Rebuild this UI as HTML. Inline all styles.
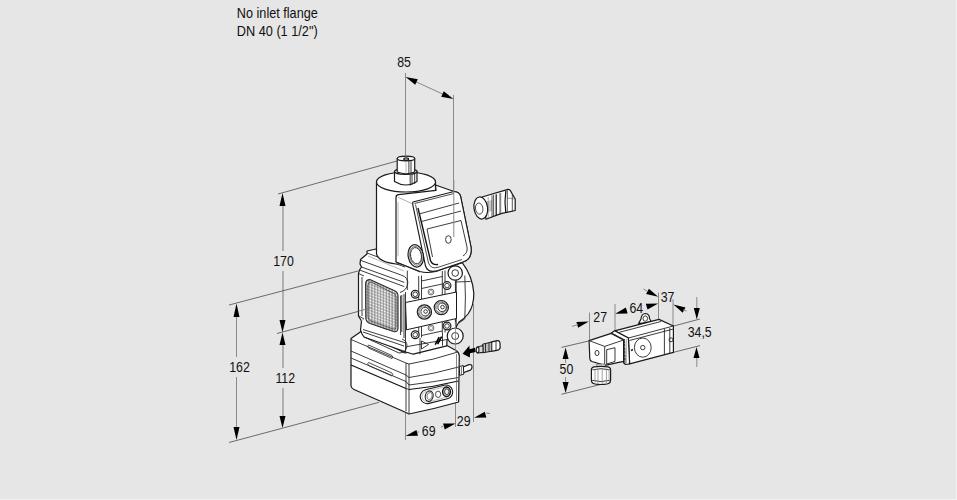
<!DOCTYPE html>
<html><head><meta charset="utf-8">
<style>
html,body{margin:0;padding:0;background:#e6e6e6;width:957px;height:500px;overflow:hidden}
svg{display:block}
text{font-family:"Liberation Sans",sans-serif;font-size:14.2px;fill:#111}
.d{stroke:#8a8a8a;stroke-width:1;fill:none}
.e{stroke:#5c5c5c;stroke-width:0.9;fill:none}
.a{fill:#000;stroke:none}
.o{stroke:#1a1a1a;stroke-width:1.2;fill:#fff;stroke-linejoin:round}
.l{stroke:#262626;stroke-width:0.9;fill:none}
.t{stroke:#888;stroke-width:0.6;fill:none}
</style></head>
<body>
<svg width="957" height="500" viewBox="0 0 957 500">
<rect x="956" y="0" width="1" height="500" fill="#f2f2f2"/><rect x="0" y="499" width="957" height="1" fill="#f2f2f2"/>
<!-- TEXT -->
<text transform="matrix(0.893 0 0 1 236.80 17.80)">No inlet flange</text>
<text transform="matrix(0.897 0 0 1 236.80 35.80)">DN 40 (1 1/2&quot;)</text>
<text transform="matrix(0.87 0 0 1 397.20 66.80)">85</text>
<text transform="matrix(0.87 0 0 1 273.20 266.00)">170</text>
<text transform="matrix(0.87 0 0 1 229.20 372.00)">162</text>
<text transform="matrix(0.87 0 0 1 275.40 383.00)">112</text>
<text transform="matrix(0.87 0 0 1 421.80 435.80)">69</text>
<text transform="matrix(0.87 0 0 1 456.80 425.90)">29</text>
<text transform="matrix(0.87 0 0 1 593.30 321.60)">27</text>
<text transform="matrix(0.87 0 0 1 629.50 312.70)">64</text>
<text transform="matrix(0.87 0 0 1 660.70 301.60)">37</text>
<text transform="matrix(0.87 0 0 1 687.70 337.20)">34,5</text>
<text transform="matrix(0.87 0 0 1 559.60 373.80)">50</text>

<!-- DIMENSIONS main valve -->
<g id="dims">
<!-- 85 -->
<path class="d" d="M405.5 73V157 M453.5 95V237"/>
<path class="d" d="M412 80L447 96"/>
<path class="a" d="M405.6 77.0L415.2 84.7L417.8 79.3Z M453.4 99.0L443.8 91.3L441.2 96.7Z"/>
<!-- 170 -->
<path class="e" d="M278 194L397 161"/>
<path class="d" d="M283 205V251 M283 271V321" style="stroke:#7a7a7a"/>
<path class="a" d="M282.5 193L279.5 206H285.5Z M282.5 332.5L279.5 320H285.5Z"/>
<!-- shared ext -->
<path class="e" d="M277 333.5L367 309"/>
<!-- 112 -->
<path class="d" d="M283 344V368 M283 388V417" style="stroke:#7a7a7a"/>
<path class="a" d="M282.5 332.5L279.5 345H285.5Z M282.5 428L279.5 416H285.5Z"/>
<!-- 162 -->
<path class="e" d="M229 305L358 271"/>
<path class="d" d="M236.5 316V357 M236.5 377V428"/>
<path class="a" d="M236.5 303.5L233.5 317H239.5Z M236.5 440L233.5 427H239.5Z"/>
<path class="e" d="M229 442.5L379 402.3"/>
<!-- 69 / 29 -->
<path class="d" d="M405.5 411V440 M455.5 401V427 M473.5 304V422"/>
<path class="a" d="M405.6 435.9L418.0 435.7L416.4 429.9Z M455.5 423.4L443.1 423.6L444.7 429.4Z M474.0 417.8L486.4 417.6L484.8 411.8Z"/>
<path class="d" d="M417 432L419 432 M441 427L443 426.5 M486 413L490 413.5"/>
</g>

<!-- MAIN VALVE -->
<g id="valve">
<!-- lower actuator body -->
<path class="o" d="M361 331.5 L351 338.5 L351 386 Q351.5 388.5 354 389.5 L406 412.5 L409 414 Q434 409 458.6 402 L459.3 356 Q459 352 456 350.5 L446 345 L440 346 L405 353 L362 332 Z"/>
<path class="l" d="M351 339.5 L406 363 M351 351 L406 375 M351 358 L406 381.5"/>
<path d="M351 365 L406 388.5" stroke="#111" stroke-width="1.2" fill="none"/>
<path class="l" d="M409 364 Q434 360 457.8 352 M409 377.5 Q434 374 458.5 367 M409 385 Q434 382 458.5 377.5 M409 413.6 V364 M406 363 V411"/>
<path d="M409 389.5 Q434 387 458.5 381" stroke="#111" stroke-width="1.1" fill="none"/>
<path class="l" d="M406 363 L409 364 M406 375 L409 377.5 M406 381.5 L409 385 M406 388.5 L409 389.5"/>
<path class="t" d="M368.5 345 L392 355.5 Q393.5 357 392 358.5 L368.5 348 Q367 346 368.5 345 Z M368.5 362.5 L392 373 Q393.5 374.5 392 376 L368.5 365.5 Q367 363.5 368.5 362.5 Z" style="stroke:#333;stroke-width:0.85"/>
<rect x="420" y="387.3" width="33" height="14" rx="7" transform="rotate(-14 436.5 394.3)" style="fill:#fff;stroke:#1a1a1a;stroke-width:1.1"/>
<rect x="421.8" y="389" width="29.4" height="10.6" rx="5.3" transform="rotate(-14 436.5 394.3)" style="fill:none;stroke:#999;stroke-width:0.6"/>
<ellipse cx="429.2" cy="396.2" rx="3.9" ry="5.2" transform="rotate(15 429.2 396.2)" style="fill:#fff;stroke:#1a1a1a;stroke-width:1.1"/>
<ellipse cx="429.6" cy="396" rx="2.5" ry="3.6" transform="rotate(15 429.6 396)" style="fill:none;stroke:#666;stroke-width:0.8"/>
<ellipse cx="438.1" cy="394.3" rx="2.6" ry="3.2" style="fill:none;stroke:#222;stroke-width:0.8"/>
<ellipse cx="446.5" cy="391.8" rx="3.9" ry="4.8" style="fill:#bbb;stroke:#111;stroke-width:1.3"/>
<ellipse cx="446.8" cy="391.7" rx="2.2" ry="2.9" style="fill:#eee;stroke:#333;stroke-width:0.9"/>
<!-- nipple lower -->
<path class="l" d="M456.5 354 V401" style="stroke:#555;stroke-width:0.7"/>
<path class="o" d="M462 367.5 L469 364.6 Q472.2 364 472 367.2 Q471.8 370 469 370.6 L462.5 373 Z"/>
<path d="M459.3 366.5 L463.3 365.6 L463.8 374.2 L459.6 375.4 Z" style="fill:#fff;stroke:#1a1a1a;stroke-width:1"/>
<path d="M461.4 367 V374.6" style="stroke:#333;stroke-width:0.7"/>
<!-- valve block: right round side -->
<path class="o" d="M446 268 L462.4 262.8 Q472.5 276 473.8 293 Q474 306 468 314 Q464 319 459 322 L452 334 Z"/>
<path class="l" d="M455.2 282 L470.5 281.5 M464.8 275.6 Q466 297 464.8 318.8 L459 323 M455.2 282 V326.8"/>
<!-- block main silhouette -->
<path class="o" d="M358.5 273.5 L359.5 270 L361.5 267 L360 264 L360.5 259.5 L367 254 L367 251 L376 249 L420 262 L450 262 L456 280 L456 322 L456 336 L447 340 L446.8 345.8 L413.2 354.2 L406 352 L364 337 L362 334 L360.5 330 L361.5 321 L358.5 316 Z"/>
<!-- flange ribs top -->
<path class="l" d="M367 253 L405 267 M361 260.5 L400.5 274.8 Q409 277.5 407.7 284 Q406.5 290.5 400 292.5 M361.5 267 L404.3 282.4 M359.5 270 L404.3 286.6 M358.5 273.5 L364 276 M362 277 V316 M359 316 L364 319"/>
<path class="t" d="M368 256 L404 271"/>
<!-- flange bottom rail -->
<path class="l" d="M363 329.5 L406 343 M363 332 L404 346 M364 337 L399 353 Q406 353 407 346 Q407 341 402 339"/>
<path class="t" d="M376 325 L387 330 M361 321 L364 319"/>
<!-- filter mesh -->
<defs><pattern id="mesh" width="2.9" height="2.9" patternUnits="userSpaceOnUse" patternTransform="translate(366 280) skewY(20)"><rect width="2.9" height="2.9" fill="#909090"/><rect x="0.55" y="0.55" width="1.9" height="1.9" rx="0.4" fill="#fafafa"/></pattern></defs>
<path d="M370 279.6 Q365.6 279.6 365.6 284 L365.8 318 Q366 322 370 323.5 L393.5 331.5 Q398 332.5 398 328 L398 296 Q398 292 394 290.5 Z" fill="url(#mesh)" stroke="#2a2a2a" stroke-width="1.1"/>
<path d="M371 282 Q367.8 282 367.8 285.5 L368 317 Q368.2 320 371 321 L393 329 Q396 330 396 327 L396 297 Q396 294 393 293 Z" fill="none" stroke="#444" stroke-width="0.8"/>
<path class="l" d="M400.6 295.6 V335 M404 294 V338"/>
<!-- block front face -->
<path class="l" d="M407.3 270.6 V290 M405.5 292 V352 M401.8 295 V332 M418.7 276 V300 M421.5 275.5 V299.5 M442.3 271 V295 M445 270.5 V294.5 M455.4 281 V324"/>
<path class="l" d="M418.7 327 V338 M421.5 326.5 V337.5 M442.3 322 V333 M445 321.5 V332.5 M420 338 V354.3 M442.5 333 V345.8"/>
<path class="l" d="M421.5 281 L442.3 276.5 M421.5 288.5 L442.3 284 M421.5 335.5 L442.3 331"/>
<path class="o" d="M405.5 302.5 L456.5 292 L456.5 318.5 L406.5 329.8 Z" style="stroke-width:1"/>
<path class="l" d="M406.5 346.7 L448.8 339.2"/>
<circle class="o" cx="424.4" cy="312" r="7.1"/><circle cx="424.4" cy="312" r="5.6" fill="none" stroke="#666" stroke-width="2" stroke-dasharray="0.8 0.6"/><circle class="l" cx="425.2" cy="311.7" r="4.3"/><circle class="l" cx="425.6" cy="311.5" r="1.8"/>
<circle class="o" cx="441.3" cy="307.6" r="7.1"/><circle cx="441.3" cy="307.6" r="5.6" fill="none" stroke="#666" stroke-width="2" stroke-dasharray="0.8 0.6"/><circle class="l" cx="442.1" cy="307.3" r="4.3"/><circle class="l" cx="442.5" cy="307.1" r="1.8"/>
<circle class="o" cx="415.2" cy="294.3" r="3.9"/><circle class="l" cx="415.2" cy="294.3" r="2.3"/>
<circle class="o" cx="447" cy="285.6" r="3.9"/><circle class="l" cx="447" cy="285.6" r="2.3"/>
<circle class="o" cx="415.2" cy="334.8" r="3.9"/><circle class="l" cx="415.2" cy="334.8" r="2.3"/>
<circle class="o" cx="447" cy="326" r="3.9"/><circle class="l" cx="447" cy="326" r="2.3"/>
<circle cx="431" cy="292" r="2.9" style="fill:none;stroke:#444;stroke-width:0.8"/><circle cx="431" cy="292" r="1.6" style="fill:none;stroke:#777;stroke-width:0.6"/>
<circle cx="431" cy="328" r="2.9" style="fill:none;stroke:#444;stroke-width:0.8"/><circle cx="431" cy="328" r="1.6" style="fill:none;stroke:#777;stroke-width:0.6"/>
<path class="l" d="M421.5 341 L428.5 344.5 L421.5 349 Z"/>
<path d="M435.2 344.6 L439.2 337.2 M437.6 344 L441.6 336.6" stroke="#000" stroke-width="1.6"/>
<circle class="o" cx="455.2" cy="273" r="7.2"/><circle class="l" cx="455.2" cy="273" r="3.3"/>
<path class="o" d="M447 265 L452 262.5 L453 266 Z"/>
<circle class="o" cx="455.2" cy="336" r="8"/><circle class="l" cx="455.2" cy="336" r="3.5"/>

<!-- coil cylinder -->
<path class="o" d="M376.5 182 L376.5 254 Q379 262 396 264 L435.5 262 L435.5 182 Z"/>
<!-- housing -->
<path class="o" d="M396 197.5 Q396 194.8 398.5 194.6 L436 190.4 L435.5 185 L454 191.5 Q459.5 192 460.5 196 L471 247 Q472.5 259 463 262 L436 271.5 Q426 273.5 420 271.5 L396 262 Z"/>
<path class="t" d="M398 202 V256"/>
<path class="l" d="M396 262 L420 272"/>
<path d="M398 197.2 L412.3 203.7" style="stroke:#999;stroke-width:0.8"/>
<path d="M413 202 L454 191.5 Q459.5 192 460.5 196 L471 247 Q472.5 259 463 262 L438 270.5 Q428 273.5 425.5 266 L413 206 Q412.5 203 413 202 Z" fill="#fff" stroke="#1a1a1a" stroke-width="1.15"/>
<path d="M414.5 203.5 L454 193.5 M415.5 204.5 L428.5 263 Q431 269.5 438 267.3 L462 259.5" fill="none" stroke="#222" stroke-width="0.8"/>
<path d="M418 208 L430.5 260.5 Q432.5 265.5 438 264.5" fill="none" stroke="#111" stroke-width="1.4"/>
<path class="l" d="M419 214 L459 203 M421.5 221.5 L461 211 M427 229 L461 220.5 L467 247 Q468 253 463 256 M427 229 L432.5 257"/>
<ellipse class="l" cx="448.4" cy="239.5" rx="2.8" ry="3.8"/>
<ellipse class="o" cx="415.8" cy="255.9" rx="7.6" ry="11.3" transform="rotate(-10 415.8 255.9)"/>
<ellipse class="l" cx="415.9" cy="255.8" rx="6.2" ry="9.6" transform="rotate(-10 415.9 255.8)" style="stroke:#555;stroke-width:0.7"/>
<ellipse class="l" cx="416" cy="255.7" rx="5.4" ry="8.2" transform="rotate(-10 416 255.7)"/>
<ellipse class="o" cx="406" cy="182" rx="29.5" ry="10"/>
<!-- knob -->
<path class="o" d="M394.5 171.5 L394.5 181.5 Q406 188.5 417 181.5 L417 171.5 Z"/>
<ellipse class="o" cx="405.8" cy="171.5" rx="11.3" ry="3"/>
<path class="l" d="M410.2 174.5 V185.5 M412 174 V185 M414.7 173.5 V184"/>
<path class="o" d="M397.2 158.5 L397.2 172 Q406 175.5 414.7 172 L414.7 158.5 Z"/>
<ellipse class="o" cx="406" cy="158.5" rx="8.75" ry="2.3"/>
<ellipse cx="406.2" cy="159" rx="2.4" ry="1.2" fill="none" stroke="#111" stroke-width="1.2"/>
<path class="l" d="M408.9 160.4 V174.3 M411 160.2 V174"/>
<path class="t" d="M406 161 V174"/>

<!-- extension lines through valve -->
<path d="M455.5 322 V352" style="stroke:#888;stroke-width:0.8"/>
<path class="e" d="M358.5 311.2 L371 307.8" style="stroke:#777"/>
<path class="d" d="M405.5 140 V156 M453.8 180 V237"/>

<!-- cable gland -->
<path class="o" d="M482 197 L508 189.3 Q509.4 189.2 510.2 190.4 L515.2 199 L515.2 210.5 L500.8 213.6 L486 219.2 Z"/>
<path d="M486 201.5 L492 200 L492 211 L486 212.5 Z" fill="#c8c8c8"/>
<path d="M488.2 197 V217.8" style="stroke:#888;stroke-width:0.7" fill="none"/>
<path d="M492 195.3 V217.2 M493.6 194.9 V216.7 M500 193.1 V214.6 M507.3 190 V212.6 M512.3 194.6 V211.5" style="stroke:#2a2a2a;stroke-width:0.8;fill:none"/>
<path d="M496.2 194.2 V215.8 M505.8 191 Q504.2 202 505.8 213" style="stroke:#111;stroke-width:1.2;fill:none"/>
<path d="M500.8 193 V214.5 M507.3 198 L515.2 199" style="stroke:#555;stroke-width:0.6;fill:none"/>
<ellipse class="o" cx="480.8" cy="208" rx="6.8" ry="11.1" transform="rotate(-8 480.8 208)"/>
<ellipse class="l" cx="479.2" cy="208.6" rx="3.7" ry="5.6" transform="rotate(-8 479.2 208.6)" style="stroke:#444"/>

<!-- arrow & nipple -->
<path class="a" d="M462.6 353.8 L469.4 345.4 L469.6 349.3 L475 347.8 L475.6 352 L470 353.3 L469.8 357.4 Z"/>
<path class="o" d="M491 342.2 L497 340.7 Q500 340.3 500 343.5 L500.2 347.3 Q500 350.2 497 350.3 L491 351.3 Z"/>
<path class="l" d="M496 341 V350.5"/>
<path d="M482.6 344.2 L491.8 342 L491.8 351.2 L482.6 352.8 Z" fill="#bdbdbd" stroke="#1a1a1a" stroke-width="1"/>
<path d="M485.5 343.5 V352.3 M489 342.7 V351.7" stroke="#222" stroke-width="0.9"/>
<path class="o" d="M477.5 347 L483 345.6 L483 352.3 L477.5 352.8 Z"/>
<ellipse class="o" cx="477.6" cy="349.9" rx="1.4" ry="2.8"/>
<path class="t" d="M479.5 346.5 V352.5 M481 346 V352.5"/>
</g>

<!-- SOLENOID (right) -->
<g id="sol">
<!-- dims -->
<path class="e" d="M561.5 347.4L590 340.7 M561.5 394.3L601.5 384.2 M674 352.2L700 345.6 M673 326.2L700 319"/>
<path class="d" d="M565.6 358V363 M565.6 377V383 M696.8 297V309 M696.8 357V367"/>
<path class="a" d="M565.6 347.4L562.6 359H568.6Z M565.6 393L562.6 382H568.6Z M696.8 319.6L693.8 308H699.8Z M696.5 347L693.5 358H699.5Z"/>
<path class="d" d="M589.5 312.6V340 M615 304V330 M658.5 292.6V319 M673 299.2V326"/>
<path class="a" d="M588.8 321.6L576.4 322.0L578.1 327.8Z M615.2 313.8L627.6 313.4L625.9 307.6Z M658.2 303.4L645.8 303.8L647.5 309.6Z M658.2 296.8L648.9 288.7L646.1 294.1Z M673.4 304.6L682.7 312.7L685.5 307.4Z"/>
<path class="d" d="M572 326.4L578 324.5 M643.4 289L647 291 M683 310L686.6 311"/>
<!-- lifting eye -->
<path class="o" d="M638.6 323.6 L641 319 Q641.5 313.5 645.5 313.5 Q649.5 314 649.5 318.5 L651.2 321.8 Z"/>
<ellipse class="l" cx="645.3" cy="318.6" rx="2.3" ry="2.7"/>
<!-- main body -->
<path class="o" d="M614.6 330.8 L659 319.4 L673.4 326 L673.4 352.4 L629.6 363.8 L628.4 338 Z"/>
<path class="l" d="M616.5 333 L661 321.5 M628.4 338 L673.4 326 M629.4 340.5 L673.4 329"/>
<path class="l" d="M664.4 329 V354.5 M669.8 328 V353"/>
<ellipse class="l" cx="642.8" cy="347.6" rx="8.4" ry="9.6"/>
<circle class="l" cx="642.8" cy="347.6" r="2.2"/>
<circle class="l" cx="671" cy="339.8" r="2"/>
<path d="M631 350.5 L633 349.5" stroke="#222" stroke-width="1.5"/>
<!-- fin collar -->
<path class="o" d="M610.4 333.8 L614.6 330.8 L628.4 338 L629.6 363.8 L625.5 364.5 L623.6 362.7 L623.6 340 Z"/>
<path d="M612 334.2 L623.8 340.3 L624.6 362.5" stroke="#1a1a1a" stroke-width="2.6" stroke-dasharray="0.9 0.5" fill="none"/>
<path class="t" d="M626.5 339 V363"/>
<!-- connector -->
<path class="o" d="M589.1 340.6 L611.2 333.4 L623.6 340 L623.6 361.4 L604.7 365.3 L592 361.5 Q589.8 360.5 589.8 358.5 Z"/>
<path class="l" d="M589.1 340.6 L604.7 346.4 L623.6 340 M604.7 346.4 V365.3"/>
<path class="l" d="M606.7 349.7 L615 347.7 L615 361.4 L606.7 364 Z"/>
<ellipse class="l" cx="597" cy="353" rx="2" ry="2.6"/>
<!-- knurled nut -->
<path d="M596.8 364 L605.2 364 L605.2 369 L596.8 369 Z" fill="#d4d4d4" stroke="#444" stroke-width="0.6"/>
<path class="o" d="M591.4 370 Q591.4 367.2 594 366.8 Q601 365.8 608 366.8 Q610.6 367.2 610.6 370 L610.6 380 Q610.6 383.5 607 384 Q601 385 595 384 Q591.4 383.5 591.4 380 Z"/>
<path d="M592.5 369.8 Q601 367.6 609.5 369.8 M592.2 380.3 Q601 383 609.8 380.3" stroke="#222" stroke-width="0.9" fill="none"/>
<path d="M595 369 V382.5 M598 368.5 V383.5 M602.2 368.5 V384 M606.4 368.5 V383.5 M609.1 369 V382" stroke="#8a8a8a" stroke-width="0.8" fill="none"/>
</g>
</svg>
</body></html>
